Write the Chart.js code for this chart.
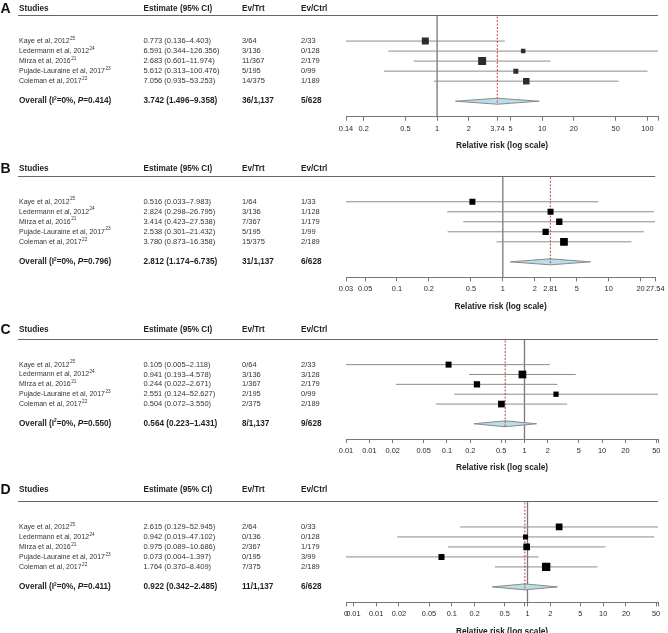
<!DOCTYPE html>
<html><head><meta charset="utf-8">
<script src="https://cdn.jsdelivr.net/npm/chart.js@4.4.1/dist/chart.umd.min.js"></script>
<style>
html,body{margin:0;padding:0;background:#fff;}
body{width:668px;height:633px;overflow:hidden;position:relative;}
canvas{position:absolute;left:0;display:block;}
</style></head><body>
<canvas id="cA" width="668" height="160" style="top:0px"></canvas>
<canvas id="cB" width="668" height="160" style="top:160px"></canvas>
<canvas id="cC" width="668" height="160" style="top:320px"></canvas>
<canvas id="cD" width="668" height="160" style="top:481px"></canvas>
<script>
// ---------- DATA ----------
const studies = ["Kaye et al, 2012", "Ledermann et al, 2012", "Mirza et al, 2016", "Pujade-Lauraine et al, 2017", "Coleman et al, 2017"];
const refs = ["25", "24", "21", "23", "22"];

// Panel A
const estA = [0.773, 6.591, 2.683, 5.612, 7.056];
const loA = [0.136, 0.344, 0.601, 0.313, 0.935];
const hiA = [4.403, 126.356, 11.974, 100.476, 53.253];
const trtA = ["3/64", "3/136", "11/367", "5/195", "14/375"];
const ctrlA = ["2/33", "0/128", "2/179", "0/99", "1/189"];
const weightA = [7, 4.5, 8, 5, 6.5];
const overallA = [3.742, 1.496, 9.358];
const overallEvA = ["36/1,137", "5/628"];
const pA = "0.414";
const ticksA = [0.136, 0.2, 0.5, 1, 2, 3.742, 5, 10, 20, 50, 100, 126.356];
const tickLabelsA = ["0.14", "0.2", "0.5", "1", "2", "3.74", "5", "10", "20", "50", "100", ""];

// Panel B
const estB = [0.516, 2.824, 3.414, 2.538, 3.780];
const loB = [0.033, 0.298, 0.423, 0.301, 0.873];
const hiB = [7.983, 26.795, 27.538, 21.432, 16.358];
const trtB = ["1/64", "3/136", "7/367", "5/195", "15/375"];
const ctrlB = ["1/33", "1/128", "1/179", "1/99", "2/189"];
const weightB = [6, 6, 6.3, 6.3, 7.7];
const overallB = [2.812, 1.174, 6.735];
const overallEvB = ["31/1,137", "6/628"];
const pB = "0.796";
const ticksB = [0.033, 0.05, 0.1, 0.2, 0.5, 1, 2, 2.812, 5, 10, 20, 27.538];
const tickLabelsB = ["0.03", "0.05", "0.1", "0.2", "0.5", "1", "2", "2.81", "5", "10", "20", "27.54"];

// Panel C
const estC = [0.105, 0.941, 0.244, 2.551, 0.504];
const loC = [0.005, 0.193, 0.022, 0.124, 0.072];
const hiC = [2.118, 4.578, 2.671, 52.627, 3.550];
const trtC = ["0/64", "3/136", "1/367", "2/195", "2/375"];
const ctrlC = ["2/33", "3/128", "2/179", "0/99", "2/189"];
const weightC = [6, 7.7, 6.3, 5.3, 6.7];
const overallC = [0.564, 0.223, 1.431];
const overallEvC = ["8/1,137", "9/628"];
const pC = "0.550";
const ticksC = [0.005, 0.01, 0.02, 0.05, 0.1, 0.2, 0.5, 0.564, 1, 2, 5, 10, 20, 50, 52.627];
const tickLabelsC = ["0.01", "0.01", "0.02", "0.05", "0.1", "0.2", "0.5", "", "1", "2", "5", "10", "20", "50", ""];

// Panel D
const estD = [2.615, 0.942, 0.975, 0.073, 1.764];
const loD = [0.129, 0.019, 0.089, 0.004, 0.370];
const hiD = [52.945, 47.102, 10.686, 1.397, 8.409];
const trtD = ["2/64", "0/136", "2/367", "0/195", "7/375"];
const ctrlD = ["0/33", "0/128", "1/179", "3/99", "2/189"];
const weightD = [6.7, 5, 6.7, 6, 8.3];
const overallD = [0.922, 0.342, 2.485];
const overallEvD = ["11/1,137", "6/628"];
const pD = "0.411";
const ticksD = [0.004, 0.005, 0.01, 0.02, 0.05, 0.1, 0.2, 0.5, 0.922, 1, 2, 5, 10, 20, 50, 52.945];
const tickLabelsD = ["0", "0.01", "0.01", "0.02", "0.05", "0.1", "0.2", "0.5", "", "1", "2", "5", "10", "20", "50", ""];

// ---------- STYLE / LAYOUT ----------
const FF = '"Liberation Sans", Arial, Helvetica, sans-serif';
const Y_MIN = -1.6, Y_MAX = 8.55, OVERALL_ROW = 7;
const COL_X = [19, 143.5, 242, 301];
const NAME = 7.0, REG = 7.5, BOLD = 8.2, SUP = 4.7;

function fmt(v) { return v.toFixed(3); }

function drawRich(ctx, x, y, parts) {
  for (const p of parts) {
    ctx.font = p.font;
    ctx.fillText(p.t, x, y + (p.dy || 0));
    x += ctx.measureText(p.t).width + (p.gap || 0);
  }
}

function makePanel(id, letter, est, lo, hi, trt, ctrl, weight, overall, overallEv, pval, ticks, tickLabels, lay) {
  const nameFont = `${NAME}px ${FF}`;
  const regular = `${REG}px ${FF}`;
  const bold = `bold ${BOLD}px ${FF}`;
  const sup = `${SUP}px ${FF}`;
  const rows = est.map((_, i) => i + 1);

  const textPlugin = {
    id: 'forestText' + letter,
    afterDraw(chart) {
      const ctx = chart.ctx;
      const ys = chart.scales.y;
      const area = chart.chartArea;
      ctx.save();
      // header separator line
      ctx.strokeStyle = '#666';
      ctx.lineWidth = 1.1;
      ctx.beginPath();
      ctx.moveTo(18, Math.round(area.top) + 0.5);
      ctx.lineTo(area.right, Math.round(area.top) + 0.5);
      ctx.stroke();
      ctx.textBaseline = 'middle';
      ctx.textAlign = 'left';
      // panel letter
      ctx.fillStyle = '#111';
      ctx.font = `bold 14px ${FF}`;
      ctx.fillText(letter, 0.5, lay.headerY + 0.5);
      // header
      ctx.fillStyle = '#1e1e1e';
      ctx.font = bold;
      ["Studies", "Estimate (95% CI)", "Ev/Trt", "Ev/Ctrl"].forEach((h, k) => ctx.fillText(h, COL_X[k], lay.headerY));
      // rows
      ctx.fillStyle = '#333';
      rows.forEach((r, i) => {
        const y = ys.getPixelForValue(r);
        drawRich(ctx, COL_X[0], y, [{ t: studies[i], font: nameFont, gap: 0.4 }, { t: refs[i], font: sup, dy: -2.6 }]);
        ctx.font = regular;
        ctx.fillText(`${fmt(est[i])} (${fmt(lo[i])}\u2013${fmt(hi[i])})`, COL_X[1], y);
        ctx.fillText(trt[i], COL_X[2], y);
        ctx.fillText(ctrl[i], COL_X[3], y);
      });
      // overall
      const yo = ys.getPixelForValue(OVERALL_ROW);
      ctx.fillStyle = '#1e1e1e';
      drawRich(ctx, COL_X[0], yo, [
        { t: "Overall (I", font: bold },
        { t: "2", font: `bold ${SUP}px ${FF}`, dy: -2.6 },
        { t: "=0%, ", font: bold },
        { t: "P", font: `italic bold ${BOLD}px ${FF}` },
        { t: "=" + pval + ")", font: bold }
      ]);
      ctx.font = bold;
      ctx.fillText(`${fmt(overall[0])} (${fmt(overall[1])}\u2013${fmt(overall[2])})`, COL_X[1], yo);
      ctx.fillText(overallEv[0], COL_X[2], yo);
      ctx.fillText(overallEv[1], COL_X[3], yo);
      ctx.restore();
    }
  };

  const dh = 0.3;
  const datasets = [];
  // squares
  datasets.push({
    type: 'scatter', order: 0,
    data: est.map((v, i) => ({ x: v, y: rows[i] })),
    pointStyle: 'rect',
    pointRadius: weight.map(s => s / Math.SQRT2),
    backgroundColor: lay.squareColor, borderWidth: 0
  });
  // estimate dashed line
  datasets.push({
    type: 'line', order: 1,
    data: [{ x: overall[0], y: -1.45 }, { x: overall[0], y: 7.3 }],
    borderColor: '#cc3b3b', borderWidth: 1, borderDash: [2, 1.5],
    pointRadius: 0, fill: false
  });
  // diamond
  datasets.push({
    type: 'line', order: 2,
    data: [{ x: overall[1], y: OVERALL_ROW }, { x: overall[0], y: OVERALL_ROW - dh },
           { x: overall[2], y: OVERALL_ROW }, { x: overall[0], y: OVERALL_ROW + dh },
           { x: overall[1], y: OVERALL_ROW }],
    borderColor: '#8a8a8a', borderWidth: 1, backgroundColor: '#b9dde9',
    pointRadius: 0, fill: 'shape', tension: 0
  });
  // CI lines
  rows.forEach((r, i) => {
    datasets.push({
      type: 'line', order: 3,
      data: [{ x: lo[i], y: r }, { x: hi[i], y: r }],
      borderColor: '#8c8c8c', borderWidth: 1, pointRadius: 0, fill: false
    });
  });
  // null line
  datasets.push({
    type: 'line', order: 4,
    data: [{ x: 1, y: Y_MIN }, { x: 1, y: Y_MAX }],
    borderColor: '#777', borderWidth: 1.3, pointRadius: 0, fill: false
  });

  new Chart(document.getElementById(id), {
    type: 'scatter',
    data: { datasets },
    options: {
      responsive: false, animation: false, events: [],
      layout: { padding: { left: 346, right: 10, top: lay.top, bottom: lay.bottom } },
      plugins: { legend: { display: false }, tooltip: { enabled: false } },
      scales: {
        x: {
          type: 'logarithmic', bounds: 'data',
          min: ticks[0], max: ticks[ticks.length - 1],
          afterBuildTicks: (s) => { s.ticks = ticks.map(v => ({ value: v })); },
          ticks: {
            autoSkip: false, maxRotation: 0, minRotation: 0, padding: 3.5,
            font: { family: FF, size: 7.4 }, color: '#2a2a2a',
            callback: (v, i) => tickLabels[i]
          },
          grid: { drawOnChartArea: false, drawTicks: true, tickLength: 4, color: '#777', lineWidth: 1 },
          border: { display: true, color: '#777', width: 1 },
          title: {
            display: true, text: 'Relative risk (log scale)', color: '#1e1e1e',
            font: { family: FF, size: 8.3, weight: 'bold' }, padding: { top: 4, bottom: 0 }
          }
        },
        y: { type: 'linear', reverse: true, min: Y_MIN, max: Y_MAX, display: false }
      }
    },
    plugins: [textPlugin]
  });
}

makePanel('cA', 'A', estA, loA, hiA, trtA, ctrlA, weightA, overallA, overallEvA, pA, ticksA, tickLabelsA,
  { top: 15, bottom: 9.4, headerY: 9, squareColor: '#2c2c2c' });
makePanel('cB', 'B', estB, loB, hiB, trtB, ctrlB, weightB, overallB, overallEvB, pB, ticksB, tickLabelsB,
  { top: 15.7, bottom: 8.8, headerY: 9, squareColor: '#000' });
makePanel('cC', 'C', estC, loC, hiC, trtC, ctrlC, weightC, overallC, overallEvC, pC, ticksC, tickLabelsC,
  { top: 19, bottom: 7.1, headerY: 10, squareColor: '#000' });
makePanel('cD', 'D', estD, loD, hiD, trtD, ctrlD, weightD, overallD, overallEvD, pD, ticksD, tickLabelsD,
  { top: 20, bottom: 4.8, headerY: 9, squareColor: '#000' });
</script>
</body></html>
